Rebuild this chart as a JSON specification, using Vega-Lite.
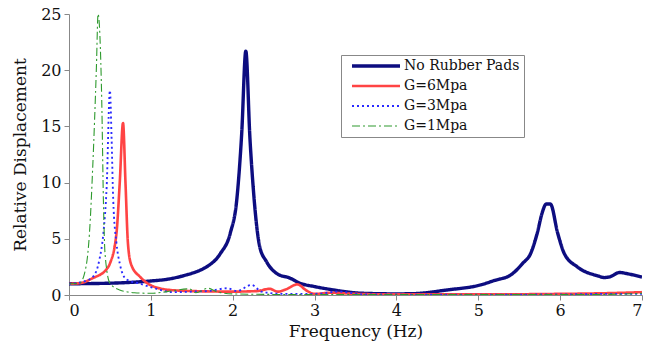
{
  "$schema": "https://vega.github.io/schema/vega-lite/v6.json",
  "width": 573,
  "height": 281,
  "autosize": {"type": "none"},
  "padding": {"left": 69, "top": 14, "right": 19, "bottom": 55},
  "background": "white",
  "config": {
    "view": {"stroke": null},
    "axis": {
      "grid": false,
      "domainColor": "#888888",
      "tickColor": "#888888",
      "tickSize": 5,
      "labelColor": "#111111",
      "labelFont": "DejaVu Serif",
      "titleFont": "DejaVu Serif",
      "labelFontSize": 16,
      "titleFontSize": 17,
      "titleFontWeight": "normal",
      "titleColor": "#111111"
    }
  },
  "data": {
    "values": [
      {"f": 0, "v": 1.0, "s": "No Rubber Pads"},
      {"f": 0.5, "v": 1.05, "s": "No Rubber Pads"},
      {"f": 1.0, "v": 1.25, "s": "No Rubber Pads"},
      {"f": 1.2, "v": 1.4, "s": "No Rubber Pads"},
      {"f": 1.44, "v": 1.8, "s": "No Rubber Pads"},
      {"f": 1.6, "v": 2.2, "s": "No Rubber Pads"},
      {"f": 1.68, "v": 2.5, "s": "No Rubber Pads"},
      {"f": 1.85, "v": 3.7, "s": "No Rubber Pads"},
      {"f": 1.97, "v": 5.5, "s": "No Rubber Pads"},
      {"f": 2.05, "v": 8.5, "s": "No Rubber Pads"},
      {"f": 2.11, "v": 14.4, "s": "No Rubber Pads"},
      {"f": 2.16, "v": 21.7, "s": "No Rubber Pads"},
      {"f": 2.21, "v": 14, "s": "No Rubber Pads"},
      {"f": 2.25, "v": 9.6, "s": "No Rubber Pads"},
      {"f": 2.33, "v": 4.3, "s": "No Rubber Pads"},
      {"f": 2.41, "v": 3.0, "s": "No Rubber Pads"},
      {"f": 2.54, "v": 1.9, "s": "No Rubber Pads"},
      {"f": 2.7, "v": 1.5, "s": "No Rubber Pads"},
      {"f": 2.82, "v": 1.05, "s": "No Rubber Pads"},
      {"f": 3.0, "v": 0.75, "s": "No Rubber Pads"},
      {"f": 3.19, "v": 0.5, "s": "No Rubber Pads"},
      {"f": 3.6, "v": 0.15, "s": "No Rubber Pads"},
      {"f": 4.0, "v": 0.1, "s": "No Rubber Pads"},
      {"f": 4.21, "v": 0.12, "s": "No Rubber Pads"},
      {"f": 4.62, "v": 0.45, "s": "No Rubber Pads"},
      {"f": 5.03, "v": 0.9, "s": "No Rubber Pads"},
      {"f": 5.2, "v": 1.3, "s": "No Rubber Pads"},
      {"f": 5.4, "v": 1.8, "s": "No Rubber Pads"},
      {"f": 5.54, "v": 2.8, "s": "No Rubber Pads"},
      {"f": 5.64, "v": 3.7, "s": "No Rubber Pads"},
      {"f": 5.72, "v": 5.5, "s": "No Rubber Pads"},
      {"f": 5.78, "v": 7.3, "s": "No Rubber Pads"},
      {"f": 5.83, "v": 8.1, "s": "No Rubber Pads"},
      {"f": 5.88, "v": 8.1, "s": "No Rubber Pads"},
      {"f": 5.97, "v": 5.5, "s": "No Rubber Pads"},
      {"f": 6.05, "v": 3.7, "s": "No Rubber Pads"},
      {"f": 6.21, "v": 2.5, "s": "No Rubber Pads"},
      {"f": 6.46, "v": 1.7, "s": "No Rubber Pads"},
      {"f": 6.54, "v": 1.55, "s": "No Rubber Pads"},
      {"f": 6.62, "v": 1.65, "s": "No Rubber Pads"},
      {"f": 6.72, "v": 2.0, "s": "No Rubber Pads"},
      {"f": 6.85, "v": 1.85, "s": "No Rubber Pads"},
      {"f": 7.0, "v": 1.6, "s": "No Rubber Pads"},

      {"f": 0, "v": 1.0, "s": "G=6Mpa"},
      {"f": 0.13, "v": 1.05, "s": "G=6Mpa"},
      {"f": 0.29, "v": 1.5, "s": "G=6Mpa"},
      {"f": 0.46, "v": 2.3, "s": "G=6Mpa"},
      {"f": 0.5, "v": 2.8, "s": "G=6Mpa"},
      {"f": 0.58, "v": 5.5, "s": "G=6Mpa"},
      {"f": 0.62, "v": 10, "s": "G=6Mpa"},
      {"f": 0.66, "v": 15.3, "s": "G=6Mpa"},
      {"f": 0.69, "v": 10, "s": "G=6Mpa"},
      {"f": 0.72, "v": 4.6, "s": "G=6Mpa"},
      {"f": 0.76, "v": 2.7, "s": "G=6Mpa"},
      {"f": 0.87, "v": 1.6, "s": "G=6Mpa"},
      {"f": 0.99, "v": 0.9, "s": "G=6Mpa"},
      {"f": 1.23, "v": 0.45, "s": "G=6Mpa"},
      {"f": 1.5, "v": 0.35, "s": "G=6Mpa"},
      {"f": 2.0, "v": 0.3, "s": "G=6Mpa"},
      {"f": 2.3, "v": 0.35, "s": "G=6Mpa"},
      {"f": 2.45, "v": 0.55, "s": "G=6Mpa"},
      {"f": 2.55, "v": 0.3, "s": "G=6Mpa"},
      {"f": 2.65, "v": 0.5, "s": "G=6Mpa"},
      {"f": 2.79, "v": 0.95, "s": "G=6Mpa"},
      {"f": 2.9, "v": 0.4, "s": "G=6Mpa"},
      {"f": 3.0, "v": 0.1, "s": "G=6Mpa"},
      {"f": 3.2, "v": 0.2, "s": "G=6Mpa"},
      {"f": 3.5, "v": 0.1, "s": "G=6Mpa"},
      {"f": 4.0, "v": 0.05, "s": "G=6Mpa"},
      {"f": 5.0, "v": 0.05, "s": "G=6Mpa"},
      {"f": 6.0, "v": 0.1, "s": "G=6Mpa"},
      {"f": 6.5, "v": 0.15, "s": "G=6Mpa"},
      {"f": 7.0, "v": 0.25, "s": "G=6Mpa"},

      {"f": 0, "v": 1.0, "s": "G=3Mpa"},
      {"f": 0.18, "v": 1.2, "s": "G=3Mpa"},
      {"f": 0.29, "v": 1.6, "s": "G=3Mpa"},
      {"f": 0.37, "v": 3.1, "s": "G=3Mpa"},
      {"f": 0.42, "v": 5.5, "s": "G=3Mpa"},
      {"f": 0.46, "v": 9.6, "s": "G=3Mpa"},
      {"f": 0.5, "v": 18.2, "s": "G=3Mpa"},
      {"f": 0.52, "v": 14, "s": "G=3Mpa"},
      {"f": 0.54, "v": 8.5, "s": "G=3Mpa"},
      {"f": 0.58, "v": 4.6, "s": "G=3Mpa"},
      {"f": 0.62, "v": 2.8, "s": "G=3Mpa"},
      {"f": 0.7, "v": 1.4, "s": "G=3Mpa"},
      {"f": 0.87, "v": 1.0, "s": "G=3Mpa"},
      {"f": 1.07, "v": 0.55, "s": "G=3Mpa"},
      {"f": 1.27, "v": 0.25, "s": "G=3Mpa"},
      {"f": 1.5, "v": 0.3, "s": "G=3Mpa"},
      {"f": 1.7, "v": 0.35, "s": "G=3Mpa"},
      {"f": 1.93, "v": 0.6, "s": "G=3Mpa"},
      {"f": 2.05, "v": 0.35, "s": "G=3Mpa"},
      {"f": 2.23, "v": 0.9, "s": "G=3Mpa"},
      {"f": 2.35, "v": 0.3, "s": "G=3Mpa"},
      {"f": 2.6, "v": 0.1, "s": "G=3Mpa"},
      {"f": 3.0, "v": 0.1, "s": "G=3Mpa"},
      {"f": 3.3, "v": 0.3, "s": "G=3Mpa"},
      {"f": 3.6, "v": 0.05, "s": "G=3Mpa"},
      {"f": 5.0, "v": 0.03, "s": "G=3Mpa"},
      {"f": 6.0, "v": 0.05, "s": "G=3Mpa"},
      {"f": 6.6, "v": 0.1, "s": "G=3Mpa"},
      {"f": 7.0, "v": 0.1, "s": "G=3Mpa"},

      {"f": 0, "v": 1.0, "s": "G=1Mpa"},
      {"f": 0.13, "v": 1.05, "s": "G=1Mpa"},
      {"f": 0.21, "v": 2.6, "s": "G=1Mpa"},
      {"f": 0.25, "v": 5.5, "s": "G=1Mpa"},
      {"f": 0.29, "v": 11.4, "s": "G=1Mpa"},
      {"f": 0.335, "v": 20.3, "s": "G=1Mpa"},
      {"f": 0.355, "v": 25, "s": "G=1Mpa"},
      {"f": 0.4, "v": 17.3, "s": "G=1Mpa"},
      {"f": 0.42, "v": 8.5, "s": "G=1Mpa"},
      {"f": 0.44, "v": 3.7, "s": "G=1Mpa"},
      {"f": 0.5, "v": 1.05, "s": "G=1Mpa"},
      {"f": 0.62, "v": 0.45, "s": "G=1Mpa"},
      {"f": 0.8, "v": 0.2, "s": "G=1Mpa"},
      {"f": 1.0, "v": 0.15, "s": "G=1Mpa"},
      {"f": 1.2, "v": 0.3, "s": "G=1Mpa"},
      {"f": 1.47, "v": 0.55, "s": "G=1Mpa"},
      {"f": 1.55, "v": 0.2, "s": "G=1Mpa"},
      {"f": 1.7, "v": 0.6, "s": "G=1Mpa"},
      {"f": 1.8, "v": 0.3, "s": "G=1Mpa"},
      {"f": 2.0, "v": 0.1, "s": "G=1Mpa"},
      {"f": 2.5, "v": 0.05, "s": "G=1Mpa"},
      {"f": 3.5, "v": 0.03, "s": "G=1Mpa"},
      {"f": 5.0, "v": 0.03, "s": "G=1Mpa"},
      {"f": 6.5, "v": 0.05, "s": "G=1Mpa"},
      {"f": 7.0, "v": 0.15, "s": "G=1Mpa"}
    ]
  },
  "mark": {"type": "line", "clip": true, "interpolate": "monotone"},
  "encoding": {
    "x": {
      "field": "f",
      "type": "quantitative",
      "scale": {"domain": [0, 7], "nice": false},
      "axis": {"values": [0, 1, 2, 3, 4, 5, 6, 7], "title": "Frequency (Hz)", "labelPadding": 2, "titlePadding": 5}
    },
    "y": {
      "field": "v",
      "type": "quantitative",
      "scale": {"domain": [0, 25], "nice": false},
      "axis": {"values": [0, 5, 10, 15, 20, 25], "title": "Relative Displacement", "labelPadding": 3, "titlePadding": 11}
    },
    "color": {
      "field": "s",
      "type": "nominal",
      "sort": ["No Rubber Pads", "G=6Mpa", "G=3Mpa", "G=1Mpa"],
      "scale": {
        "domain": ["No Rubber Pads", "G=6Mpa", "G=3Mpa", "G=1Mpa"],
        "range": ["#0d0d80", "#ff4444", "#2a2aff", "#2e9a2e"]
      },
      "legend": {
        "title": null,
        "orient": "none",
        "legendX": 272,
        "legendY": 41,
        "symbolType": "M0,0H9.6",
        "symbolSize": 100,
        "labelOffset": 45,
        "rowPadding": 6,
        "padding": 4,
        "labelFont": "DejaVu Serif",
        "labelFontSize": 14,
        "labelColor": "#111111",
        "strokeColor": "#888888",
        "fillColor": "white"
      }
    },
    "strokeDash": {
      "field": "s",
      "type": "nominal",
      "sort": ["No Rubber Pads", "G=6Mpa", "G=3Mpa", "G=1Mpa"],
      "scale": {
        "domain": ["No Rubber Pads", "G=6Mpa", "G=3Mpa", "G=1Mpa"],
        "range": [[1, 0], [1, 0], [2, 3], [8, 3, 2, 3]]
      },
      "legend": null
    },
    "strokeWidth": {
      "field": "s",
      "type": "nominal",
      "sort": ["No Rubber Pads", "G=6Mpa", "G=3Mpa", "G=1Mpa"],
      "scale": {
        "domain": ["No Rubber Pads", "G=6Mpa", "G=3Mpa", "G=1Mpa"],
        "range": [3.4, 1.1, 1.6, 1.1]
      },
      "legend": null
    }
  }
}
